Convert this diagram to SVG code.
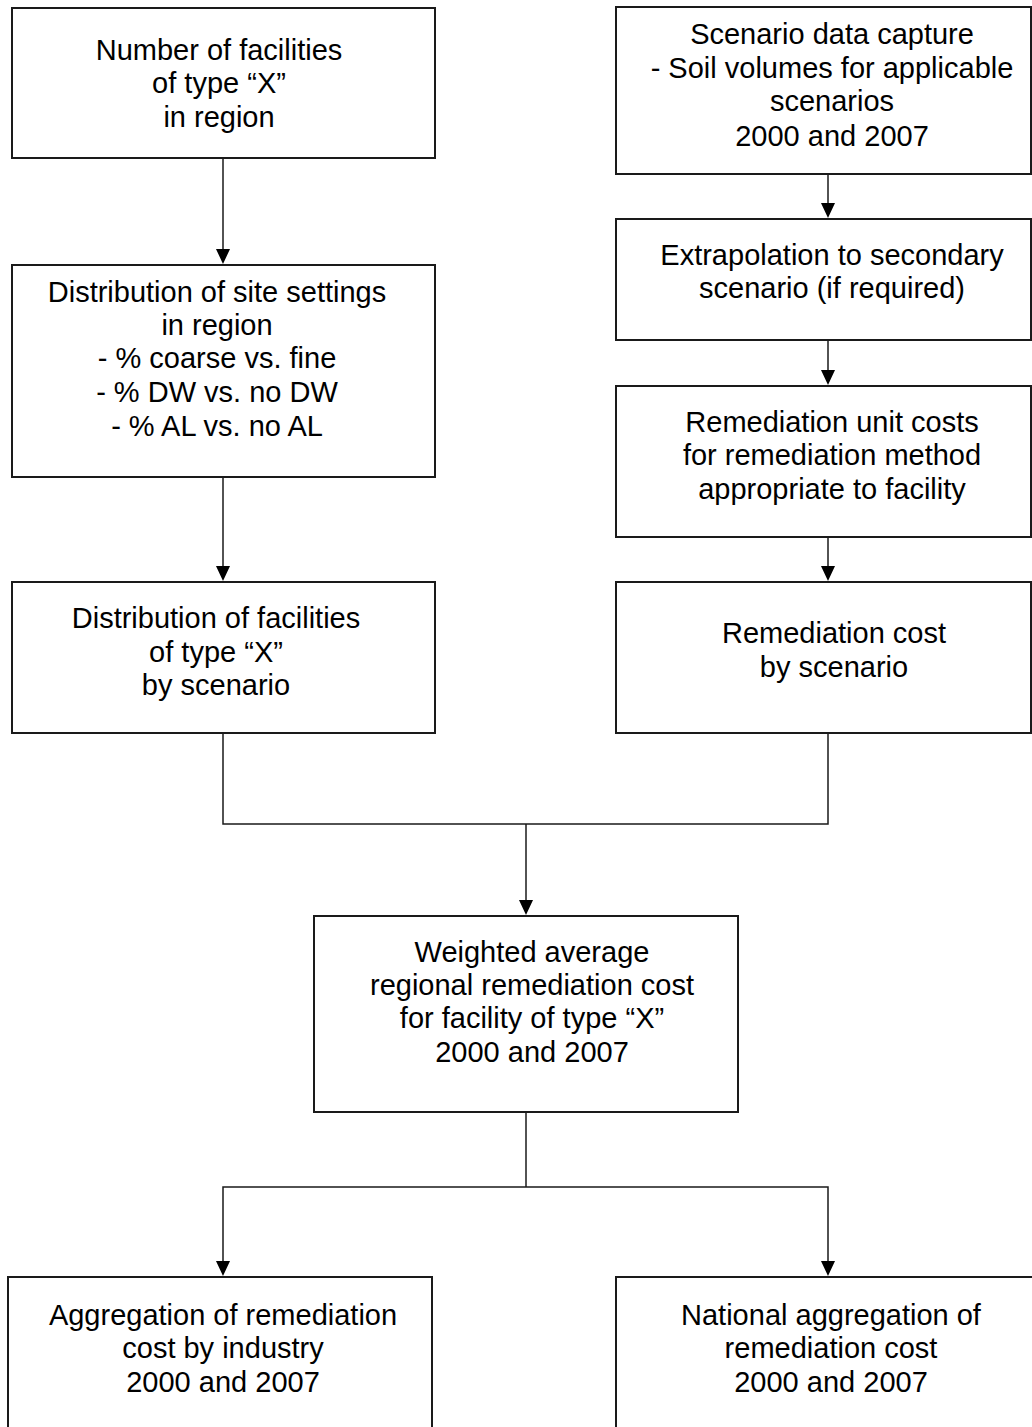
<svg xmlns="http://www.w3.org/2000/svg" width="1032" height="1427" viewBox="0 0 1032 1427">
<style>
.box{fill:#fff;stroke:#1a1a1a;stroke-width:2}
.ln{fill:none;stroke:#1a1a1a;stroke-width:1.5}
.ah{fill:#000}
text{font-family:"Liberation Sans",Arial,sans-serif;font-size:29px;fill:#000;text-anchor:middle}
</style>
<defs>
<path id="ah" class="ah" d="M-7,-15 L7,-15 L0,0 Z"/>
</defs>
<rect width="1032" height="1427" fill="#fff"/>
<g id="connectors">
<line class="ln" x1="223" y1="158" x2="223" y2="252"/>
<use href="#ah" x="223" y="264"/>
<line class="ln" x1="223" y1="477" x2="223" y2="569"/>
<use href="#ah" x="223" y="581"/>
<line class="ln" x1="828" y1="174" x2="828" y2="206"/>
<use href="#ah" x="828" y="218"/>
<line class="ln" x1="828" y1="340" x2="828" y2="373"/>
<use href="#ah" x="828" y="385"/>
<line class="ln" x1="828" y1="537" x2="828" y2="569"/>
<use href="#ah" x="828" y="581"/>
<polyline class="ln" points="223,733 223,824 828,824 828,733"/>
<line class="ln" x1="526" y1="824" x2="526" y2="903"/>
<use href="#ah" x="526" y="915"/>
<line class="ln" x1="526" y1="1112" x2="526" y2="1187"/>
<polyline class="ln" points="223,1264 223,1187 828,1187 828,1264"/>
<use href="#ah" x="223" y="1276"/>
<use href="#ah" x="828" y="1276"/>
</g>
<g id="n1">
<rect class="box" x="12" y="8" width="423" height="150"/>
<text x="219" y="60">Number of facilities</text>
<text x="219" y="93">of type “X”</text>
<text x="219" y="127">in region</text>
</g>
<g id="n2">
<rect class="box" x="12" y="265" width="423" height="212"/>
<text x="217" y="302">Distribution of site settings</text>
<text x="217" y="335">in region</text>
<text x="217" y="368">- % coarse vs. fine</text>
<text x="217" y="402">- % DW vs. no DW</text>
<text x="217" y="436">- % AL vs. no AL</text>
</g>
<g id="n3">
<rect class="box" x="12" y="582" width="423" height="151"/>
<text x="216" y="628">Distribution of facilities</text>
<text x="216" y="662">of type “X”</text>
<text x="216" y="695">by scenario</text>
</g>
<g id="r1">
<rect class="box" x="616" y="7" width="415" height="167"/>
<text x="832" y="44">Scenario data capture</text>
<text x="832" y="78">- Soil volumes for applicable</text>
<text x="832" y="111">scenarios</text>
<text x="832" y="146">2000 and 2007</text>
</g>
<g id="r2">
<rect class="box" x="616" y="219" width="415" height="121"/>
<text x="832" y="265">Extrapolation to secondary</text>
<text x="832" y="298">scenario (if required)</text>
</g>
<g id="r3">
<rect class="box" x="616" y="386" width="415" height="151"/>
<text x="832" y="432">Remediation unit costs</text>
<text x="832" y="465">for remediation method</text>
<text x="832" y="499">appropriate to facility</text>
</g>
<g id="r4">
<rect class="box" x="616" y="582" width="415" height="151"/>
<text x="834" y="643">Remediation cost</text>
<text x="834" y="677">by scenario</text>
</g>
<g id="c1">
<rect class="box" x="314" y="916" width="424" height="196"/>
<text x="532" y="962">Weighted average</text>
<text x="532" y="995">regional remediation cost</text>
<text x="532" y="1028">for facility of type “X”</text>
<text x="532" y="1062">2000 and 2007</text>
</g>
<g id="b1">
<rect class="box" x="8" y="1277" width="424" height="170"/>
<text x="223" y="1325">Aggregation of remediation</text>
<text x="223" y="1358">cost by industry</text>
<text x="223" y="1392">2000 and 2007</text>
</g>
<g id="b2">
<rect class="box" x="616" y="1277" width="430" height="170"/>
<text x="831" y="1325">National aggregation of</text>
<text x="831" y="1358">remediation cost</text>
<text x="831" y="1392">2000 and 2007</text>
</g>
</svg>
